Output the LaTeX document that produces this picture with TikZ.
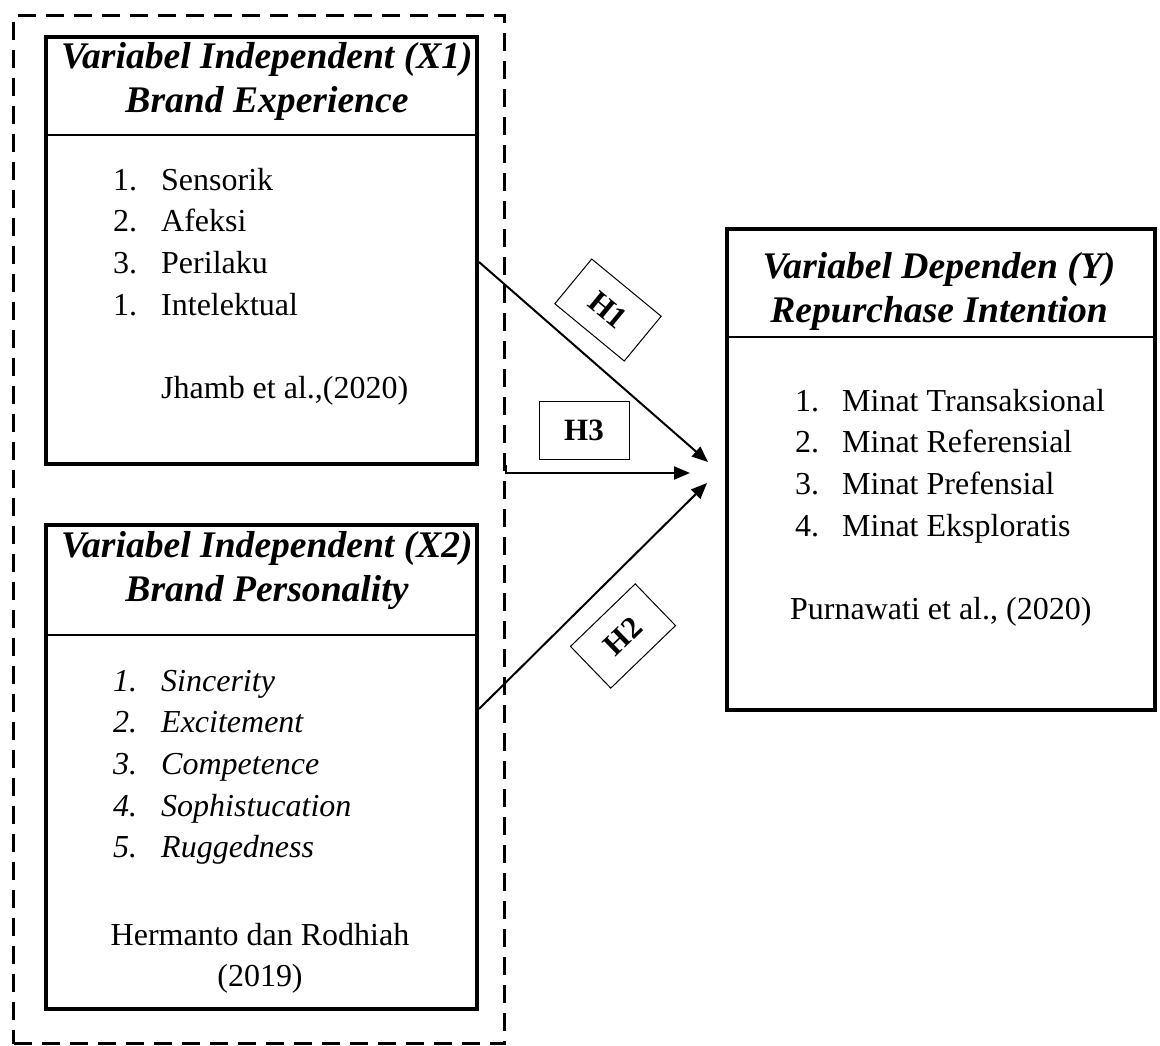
\documentclass[tikz,border=0pt]{standalone}
\usepackage{fontspec}
\setmainfont{Liberation Serif}
\usetikzlibrary{arrows.meta}

\begin{document}
\begin{tikzpicture}[x=1pt,y=-1pt,
    varbox/.style={draw, line width=4pt, anchor=north west, inner sep=0pt},
    header/.style={anchor=base, inner sep=0pt, font=\fontsize{37.6}{44}\selectfont\bfseries\itshape},
    items/.style={anchor=base west, inner sep=0pt, font=\fontsize{32}{41.7}\selectfont},
    hypo/.style={draw, line width=1pt, minimum width=90pt, minimum height=58pt, inner sep=0pt, font=\fontsize{31}{36}\selectfont\bfseries},
    link/.style={line width=2pt, -{Triangle[length=16pt,width=13pt]}}
  ]
    \useasboundingbox (0,0) rectangle (1160,1045);

    % Dashed group round the independent variables
    \node[draw, line width=3pt, dash pattern=on 18pt off 10pt, anchor=north west, inner sep=0pt,
      minimum width=491pt, minimum height=1028pt] (group) at (12,14) {};

    % Draw the boxes
    \node[varbox, minimum width=431pt, minimum height=427pt] (xone) at (44,35) {};
    \node[varbox, minimum width=431pt, minimum height=484pt] (xtwo) at (44,523) {};
    \node[varbox, minimum width=428pt, minimum height=481pt] (yvar) at (725,227) {};
    \draw[line width=2pt] (xone.west |- 0,135) -- (xone.east |- 0,135);
    \draw[line width=2pt] (xtwo.west |- 0,635) -- (xtwo.east |- 0,635);
    \draw[line width=2pt] (yvar.west |- 0,337) -- (yvar.east |- 0,337);

    % Add the headers
    \node[header] (xonehead) at (267,68) {\begin{tabular}[t]{@{}c@{}}Variabel Independent (X1)\\Brand Experience\end{tabular}};
    \node[header] (xtwohead) at (267,557) {\begin{tabular}[t]{@{}c@{}}Variabel Independent (X2)\\Brand Personality\end{tabular}};
    \node[header] (yvarhead) at (939,278) {\begin{tabular}[t]{@{}c@{}}Variabel Dependen (Y)\\Repurchase Intention\end{tabular}};

    % Add the indicators
    \node[items] (xoneitems) at (113,190) {\begin{tabular}[t]{@{}p{48pt}@{}l@{}}
      1. & Sensorik\\
      2. & Afeksi\\
      3. & Perilaku\\
      1. & Intelektual\\
      & \\
      & Jhamb et al.,(2020)
    \end{tabular}};
    \node[items, font=\fontsize{32}{41.7}\selectfont\itshape] (xtwoitems) at (113,691) {\begin{tabular}[t]{@{}p{48pt}@{}l@{}}
      1. & Sincerity\\
      2. & Excitement\\
      3. & Competence\\
      4. & Sophistucation\\
      5. & Ruggedness
    \end{tabular}};
    \node[items, anchor=base] (xtwocite) at (260,945) {\begin{tabular}[t]{@{}c@{}}Hermanto dan Rodhiah\\(2019)\end{tabular}};
    \node[items] (yvaritems) at (795,411) {\begin{tabular}[t]{@{}p{47pt}@{}l@{}}
      1. & Minat Transaksional\\
      2. & Minat Referensial\\
      3. & Minat Prefensial\\
      4. & Minat Eksploratis\\
      & \\
      \multicolumn{2}{@{}l@{}}{\hspace*{-5pt}Purnawati et al., (2020)}
    \end{tabular}};

    % Hypotheses
    \coordinate (hone) at (708,462);
    \coordinate (hthree) at (690,473);
    \coordinate (htwo) at (707,483);
    \draw[link] ([yshift=-11.5pt]xone.east) -- (hone);
    \draw[link] ([yshift=65pt]group.east) |- (hthree);
    \draw[link] ([yshift=58pt]xtwo.east) -- (htwo);
    \node[hypo, rotate=-39.5] (honelabel) at (608,310) {H1};
    \node[hypo] (hthreelabel) at (584,430) {H3};
    \node[hypo, rotate=44] (htwolabel) at (623,636) {H2};
\end{tikzpicture}
\end{document}
